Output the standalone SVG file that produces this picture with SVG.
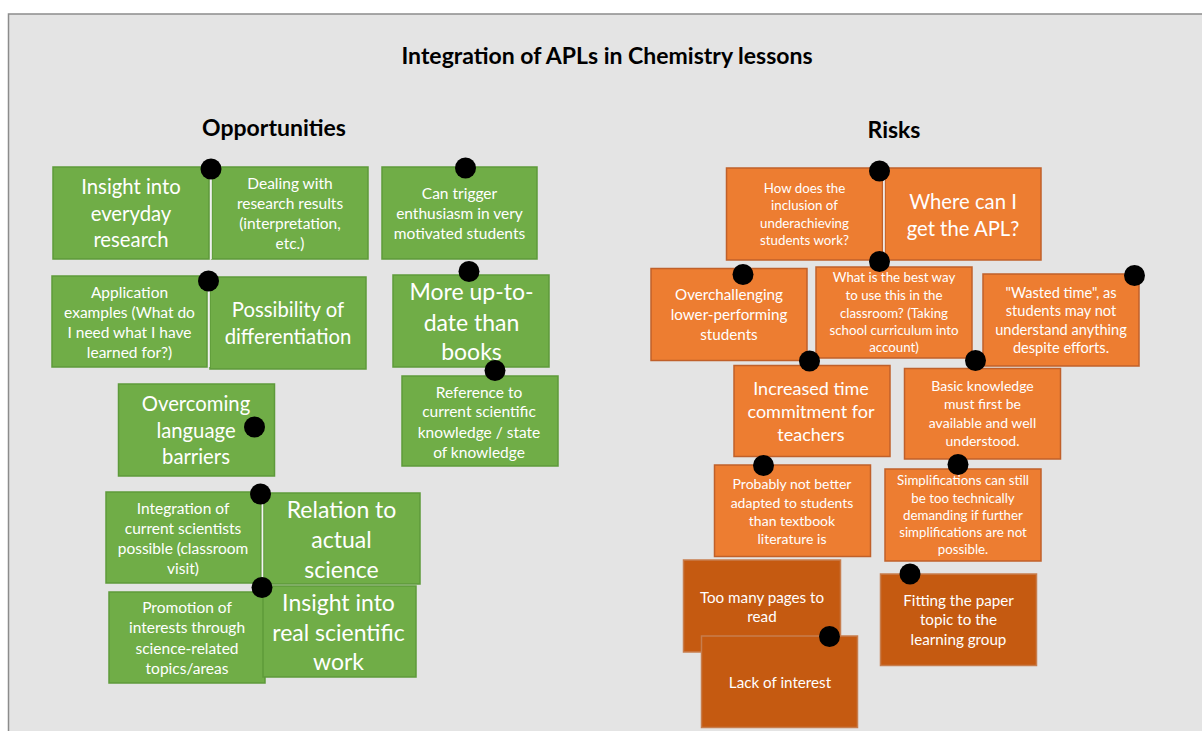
<svg xmlns="http://www.w3.org/2000/svg" width="1202" height="731" viewBox="0 0 1202 731">
<style>
text{font-family:Lato,"Liberation Sans",sans-serif;fill:#fff;text-anchor:middle;dominant-baseline:central;transform:translateY(-1px)}
.h{fill:#000;font-weight:bold;font-size:23px}
.g{fill:#70ad47;stroke:#5e9a3a;stroke-width:1.5}
.o{fill:#ed7d31;stroke:#c0602a;stroke-width:1.5}
.d{fill:#c55a11;stroke:#c77d4d;stroke-width:1.5}
.pin{fill:#000}
.sep{stroke:#f4f4f4;stroke-width:1.5}
.s13{font-size:13.3px}.s14{font-size:14px}.s145{font-size:14.6px}.s15{font-size:15.2px}.sg{font-size:15.5px}.s18{font-size:18px}.s20{font-size:20.3px}.s23{font-size:23px}
</style>
<rect x="0" y="0" width="1202" height="731" fill="#fff"/>
<rect x="8.5" y="14" width="1205" height="730" fill="#e4e4e4" stroke="#8c8c8c" stroke-width="1.5"/>
<text class="h" x="607" y="56">Integration of APLs in Chemistry lessons</text>
<text class="h" x="274" y="128">Opportunities</text>
<text class="h" x="894" y="130">Risks</text>

<g id="n-insight-everyday"><rect class="g" x="53" y="167" width="156" height="92"/>
<text class="s20" x="131" y="187">Insight into</text><text class="s20" x="131" y="213.5">everyday</text><text class="s20" x="131" y="240">research</text></g>
<g id="n-dealing"><rect class="g" x="212" y="167" width="156" height="92"/>
<text class="sg" x="290" y="184">Dealing with</text><text class="sg" x="290" y="204">research results</text><text class="sg" x="290" y="224">(interpretation,</text><text class="sg" x="290" y="244">etc.)</text></g>
<g id="n-trigger"><rect class="g" x="382" y="167" width="155" height="92"/>
<text class="sg" x="459.5" y="193.5">Can trigger</text><text class="sg" x="459.5" y="213.5">enthusiasm in very</text><text class="sg" x="459.5" y="233.5">motivated students</text></g>
<g id="n-application"><rect class="g" x="52" y="276" width="155" height="91"/>
<text class="sg" x="129.5" y="292.5">Application</text><text class="sg" x="129.5" y="312.5">examples (What do</text><text class="sg" x="129.5" y="332.5">I need what I have</text><text class="sg" x="129.5" y="352.5">learned for?)</text></g>
<g id="n-differentiation"><rect class="g" x="210" y="277" width="156" height="92"/>
<text class="s20" x="288" y="310">Possibility of</text><text class="s20" x="288" y="337">differentiation</text></g>
<g id="n-uptodate"><rect class="g" x="393" y="275" width="156" height="92"/>
<text class="s23" x="471.5" y="292">More up-to-</text><text class="s23" x="471.5" y="322.5">date than</text><text class="s23" x="471.5" y="352">books</text></g>
<g id="n-reference"><rect class="g" x="402" y="376" width="156" height="90"/>
<text class="sg" x="479" y="392.5">Reference to</text><text class="sg" x="479" y="412">current scientific</text><text class="sg" x="479" y="432.5">knowledge / state</text><text class="sg" x="479" y="452.5">of knowledge</text></g>
<g id="n-language"><rect class="g" x="118.5" y="384" width="156" height="92"/>
<text class="s20" x="196" y="404">Overcoming</text><text class="s20" x="196" y="430.5">language</text><text class="s20" x="196" y="457">barriers</text></g>
<g id="n-integration"><rect class="g" x="106" y="492" width="155" height="91"/>
<text class="sg" x="183" y="509">Integration of</text><text class="sg" x="183" y="528.5">current scientists</text><text class="sg" x="183" y="549">possible (classroom</text><text class="sg" x="183" y="569">visit)</text></g>
<g id="n-relation"><rect class="g" x="263.5" y="493" width="156.5" height="91"/>
<text class="s23" x="341.5" y="510">Relation to</text><text class="s23" x="341.5" y="540">actual</text><text class="s23" x="341.5" y="569.5">science</text></g>
<g id="n-promotion"><rect class="g" x="109" y="592" width="156" height="91"/>
<text class="sg" x="187" y="608">Promotion of</text><text class="sg" x="187" y="628">interests through</text><text class="sg" x="187" y="648.5">science-related</text><text class="sg" x="187" y="668.5">topics/areas</text></g>
<g id="n-insight-real"><rect class="g" x="263" y="586" width="153" height="91"/>
<text class="s23" x="338.5" y="602.5">Insight into</text><text class="s23" x="338.5" y="632.5">real scientific</text><text class="s23" x="338.5" y="662">work</text></g>

<g id="n-inclusion"><rect class="o" x="726.5" y="168" width="156" height="92"/>
<text class="s13" x="804.5" y="188.5">How does the</text><text class="s13" x="804.5" y="206">inclusion of</text><text class="s13" x="804.5" y="223.5">underachieving</text><text class="s13" x="804.5" y="240.5">students work?</text></g>
<g id="n-where"><rect class="o" x="885" y="168" width="156" height="92"/>
<text class="s20" x="963" y="201.5">Where can I</text><text class="s20" x="963" y="228.5">get the APL?</text></g>
<g id="n-overchallenging"><rect class="o" x="651" y="268.5" width="156" height="92"/>
<text class="s15" x="729" y="295">Overchallenging</text><text class="s15" x="729" y="315">lower-performing</text><text class="s15" x="729" y="335">students</text></g>
<g id="n-bestway"><rect class="o" x="816" y="267" width="156" height="91"/>
<text class="s13" x="894" y="278">What is the best way</text><text class="s13" x="894" y="296">to use this in the</text><text class="s13" x="894" y="313.5">classroom? (Taking</text><text class="s13" x="894" y="330.5">school curriculum into</text><text class="s13" x="894" y="347.5">account)</text></g>
<g id="n-wasted"><rect class="o" x="983" y="274" width="156" height="92"/>
<text class="s145" x="1061" y="293">"Wasted time", as</text><text class="s145" x="1061" y="311.5">students may not</text><text class="s145" x="1061" y="330">understand anything</text><text class="s145" x="1061" y="348.5">despite efforts.</text></g>
<g id="n-timecommit"><rect class="o" x="734" y="365.5" width="156" height="91"/>
<text class="s18" x="811" y="388.5">Increased time</text><text class="s18" x="811" y="412">commitment for</text><text class="s18" x="811" y="435">teachers</text></g>
<g id="n-basic"><rect class="o" x="904.5" y="368.5" width="156" height="90.5"/>
<text class="s14" x="982.5" y="386">Basic knowledge</text><text class="s14" x="982.5" y="404.5">must first be</text><text class="s14" x="982.5" y="423">available and well</text><text class="s14" x="982.5" y="441">understood.</text></g>
<g id="n-probably"><rect class="o" x="714.5" y="465" width="156" height="91.5"/>
<text class="s14" x="792" y="484.5">Probably not better</text><text class="s14" x="792" y="503">adapted to students</text><text class="s14" x="792" y="521">than textbook</text><text class="s14" x="792" y="539">literature is</text></g>
<g id="n-simplifications"><rect class="o" x="885" y="469" width="156" height="92"/>
<text class="s13" x="963" y="481">Simplifications can still</text><text class="s13" x="963" y="498.5">be too technically</text><text class="s13" x="963" y="516">demanding if further</text><text class="s13" x="963" y="533">simplifications are not</text><text class="s13" x="963" y="550">possible.</text></g>
<g id="n-pages"><rect class="d" x="683.5" y="560" width="157" height="92"/>
<text class="s15" x="762" y="598">Too many pages to</text><text class="s15" x="762" y="617">read</text></g>
<g id="n-interest"><rect class="d" x="701.5" y="636" width="156" height="91.5"/>
<text class="s15" x="780" y="682.5">Lack of interest</text></g>
<g id="n-fitting"><rect class="d" x="880.5" y="574" width="156" height="91.5"/>
<text class="s15" x="958.5" y="601">Fitting the paper</text><text class="s15" x="958.5" y="620">topic to the</text><text class="s15" x="958.5" y="640">learning group</text></g>

<g id="connectors">
<line class="sep" x1="211" y1="170" x2="211" y2="259"/>
<line class="sep" x1="209" y1="282" x2="209" y2="367"/>
<line class="sep" x1="262.5" y1="495" x2="262.5" y2="584"/>
<line class="sep" x1="884" y1="172" x2="884" y2="260"/>
</g>
<g id="pins">
<circle class="pin" cx="211" cy="169" r="10.5"/>
<circle class="pin" cx="465.5" cy="168" r="10.5"/>
<circle class="pin" cx="208.5" cy="281" r="10.5"/>
<circle class="pin" cx="469" cy="271.5" r="10.5"/>
<circle class="pin" cx="495" cy="370.5" r="10.5"/>
<circle class="pin" cx="254.5" cy="427" r="10.5"/>
<circle class="pin" cx="260.5" cy="494" r="10.5"/>
<circle class="pin" cx="262" cy="587.5" r="10.5"/>
<circle class="pin" cx="879.5" cy="171" r="10.5"/>
<circle class="pin" cx="879.5" cy="261.5" r="10.5"/>
<circle class="pin" cx="743" cy="274.5" r="10.5"/>
<circle class="pin" cx="1134.5" cy="275.5" r="10.5"/>
<circle class="pin" cx="809.5" cy="361" r="10.5"/>
<circle class="pin" cx="975.5" cy="360.5" r="10.5"/>
<circle class="pin" cx="763.5" cy="465.5" r="10.5"/>
<circle class="pin" cx="958" cy="464.5" r="10.5"/>
<circle class="pin" cx="829.5" cy="636.5" r="10.5"/>
<circle class="pin" cx="910" cy="574" r="10.5"/>
</g>
</svg>
